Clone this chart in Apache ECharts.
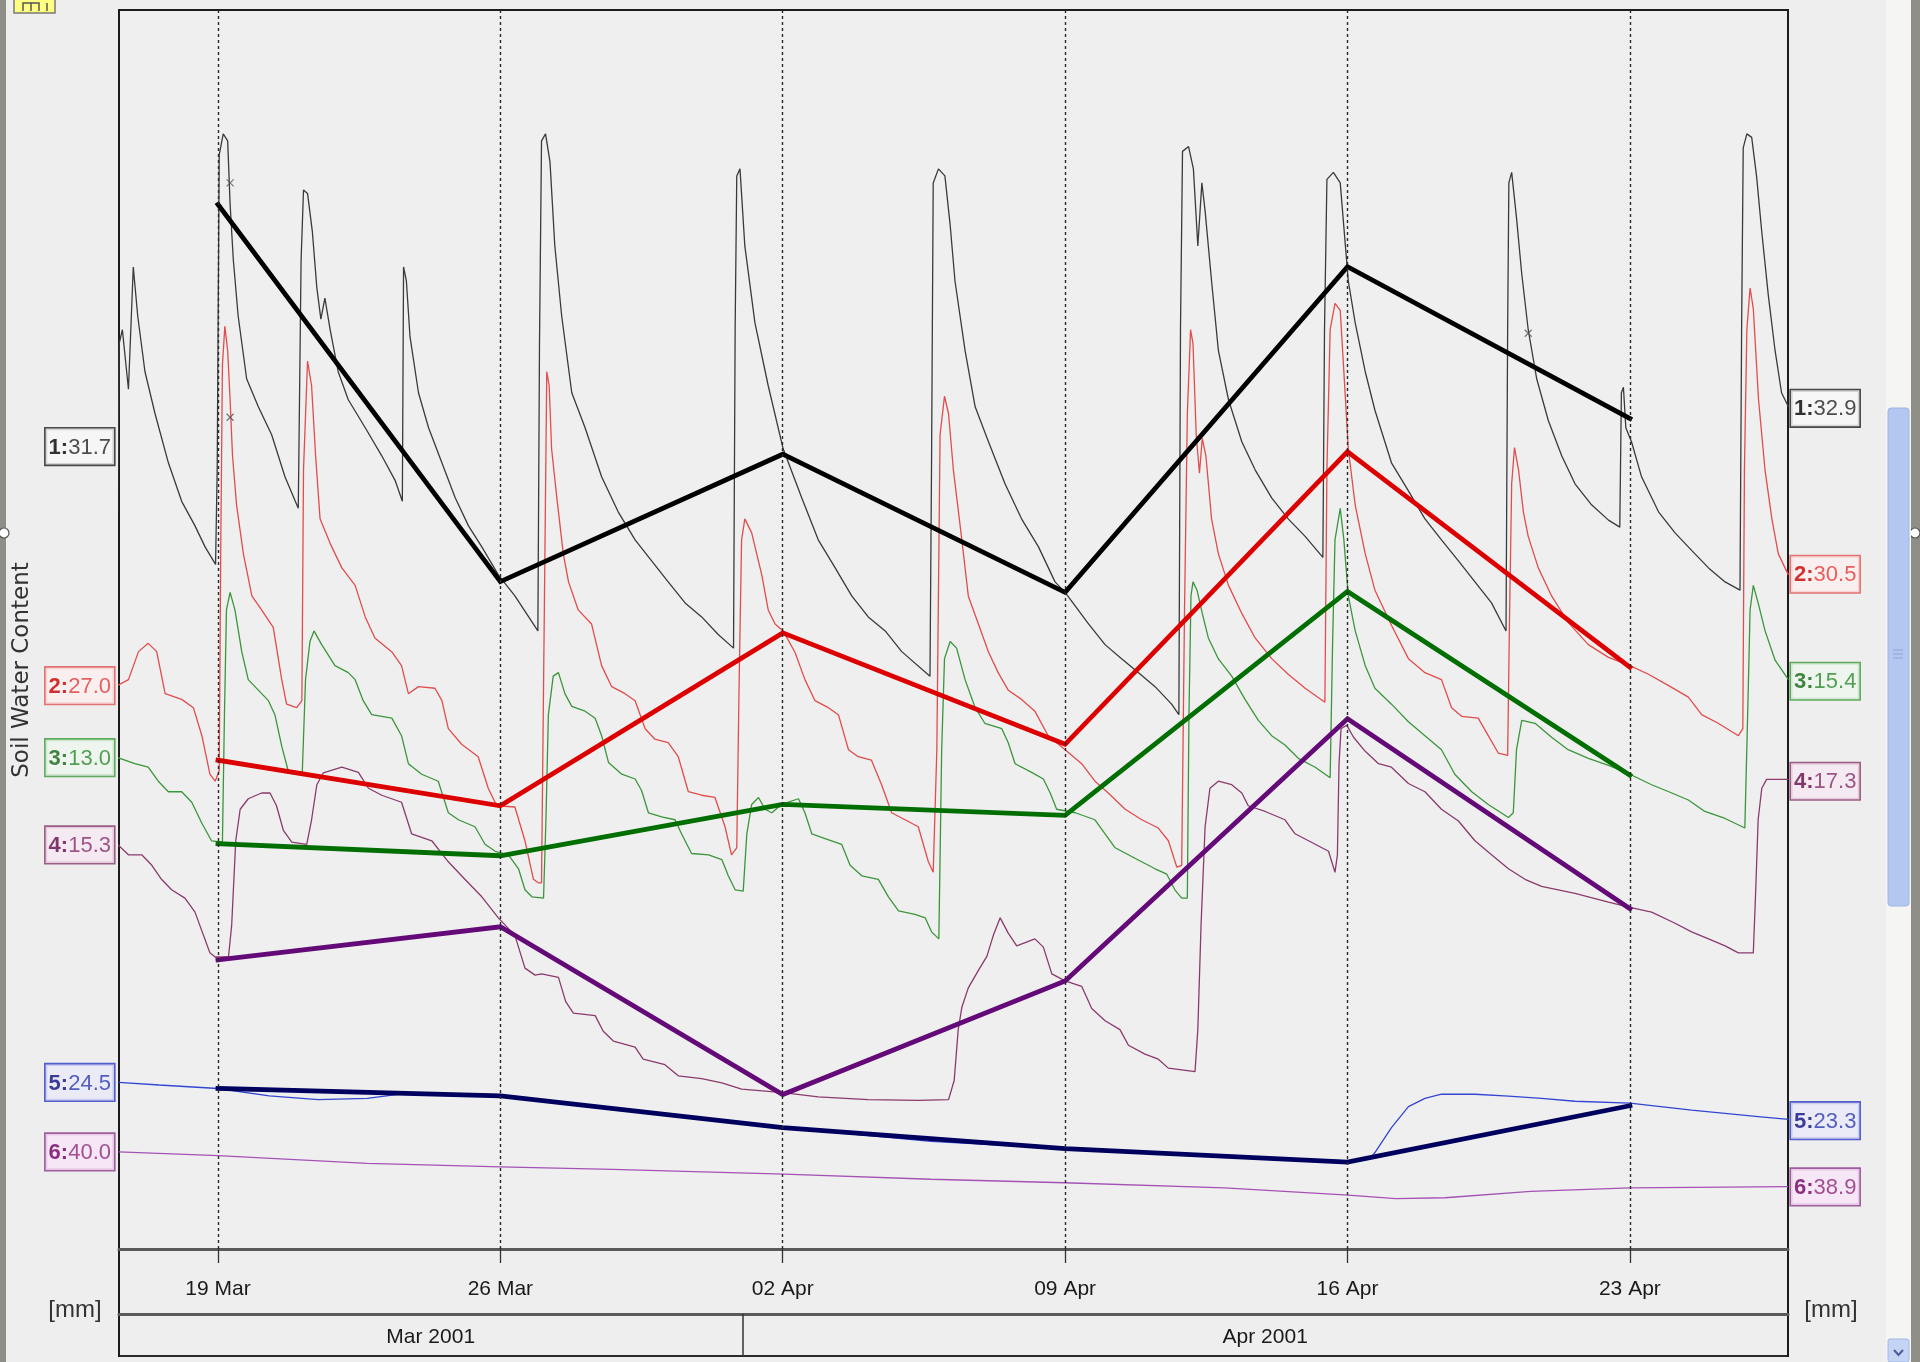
<!DOCTYPE html>
<html><head><meta charset="utf-8">
<script src="https://cdn.jsdelivr.net/npm/echarts@6/dist/echarts.min.js"></script>
<style>html,body{margin:0;padding:0;background:#eeeeee;overflow:hidden}#c{width:1920px;height:1362px}</style>
</head><body><div id="c"></div>
<script>
// ---------- data (x = days since 2001-03-16 00:00) ----------
const weekDays = [3, 10, 17, 24, 31, 38];
const weekLabels = ['19 Mar', '26 Mar', '02 Apr', '09 Apr', '16 Apr', '23 Apr'];
const monthBounds = [-15, 16, 46];               // 1 Mar, 1 Apr, 1 May
const monthLabels = ['Mar 2001', 'Apr 2001'];
const viewStart = 0.546, viewEnd = 41.92;

const leftValues  = [31.7, 27.0, 13.0, 15.3, 24.5, 40.0];
const rightValues = [32.9, 30.5, 15.4, 17.3, 23.3, 38.9];

const sensor1 = [[0.51,29.54],[0.55,34.93],[0.63,35.37],[0.78,33.50],[0.90,37.34],[1.01,35.80],[1.19,34.05],[1.44,32.73],[1.77,31.19],[2.10,29.98],[2.43,29.21],[2.68,28.55],[2.94,28.00],[2.98,30.97],[3.03,40.86],[3.13,41.52],[3.24,41.30],[3.30,39.32],[3.38,37.56],[3.50,35.80],[3.71,33.83],[4.00,32.95],[4.33,32.07],[4.66,30.75],[4.99,29.76],[5.06,37.56],[5.12,39.76],[5.22,39.65],[5.34,38.44],[5.45,36.69],[5.55,35.70],[5.65,36.36],[5.78,35.37],[5.98,34.05],[6.23,33.17],[6.65,32.29],[7.06,31.41],[7.39,30.64],[7.57,29.98],[7.60,37.34],[7.67,36.90],[7.76,35.15],[7.97,33.39],[8.22,32.29],[8.55,31.19],[8.88,30.09],[9.21,29.21],[9.54,28.55],[9.95,27.67],[10.36,27.01],[10.93,25.91],[10.97,34.93],[11.02,41.30],[11.12,41.52],[11.23,40.64],[11.35,38.00],[11.52,35.80],[11.77,33.39],[12.10,32.29],[12.51,30.75],[12.92,29.65],[13.34,28.77],[13.75,28.11],[14.16,27.45],[14.58,26.79],[14.99,26.35],[15.40,25.80],[15.78,25.37],[15.82,35.37],[15.86,40.20],[15.94,40.42],[16.06,38.00],[16.31,35.59],[16.64,33.61],[17.01,31.63],[17.47,30.09],[17.88,28.77],[18.30,27.89],[18.71,27.01],[19.12,26.35],[19.54,25.91],[19.95,25.26],[20.65,24.49],[20.69,31.41],[20.73,39.98],[20.86,40.42],[21.02,40.20],[21.15,38.66],[21.27,36.90],[21.52,34.71],[21.77,32.95],[22.10,31.85],[22.51,30.53],[22.92,29.43],[23.34,28.55],[23.75,27.45],[24.00,27.12],[24.58,26.13],[24.99,25.48],[25.40,25.04],[25.82,24.60],[26.23,24.16],[26.64,23.61],[26.82,23.28],[26.86,35.37],[26.91,40.97],[27.06,41.12],[27.18,40.42],[27.29,38.00],[27.39,39.98],[27.47,39.10],[27.63,36.90],[27.80,34.71],[28.05,33.17],[28.38,31.85],[28.71,30.97],[29.12,30.09],[29.53,29.43],[29.95,28.88],[30.39,28.22],[30.43,35.37],[30.49,40.09],[30.65,40.31],[30.82,39.98],[30.92,38.44],[31.02,36.90],[31.19,35.59],[31.44,34.05],[31.68,32.84],[32.09,31.19],[32.51,30.31],[32.92,29.43],[33.33,28.77],[33.75,28.11],[34.16,27.45],[34.57,26.79],[34.93,25.91],[34.97,35.37],[35.00,39.98],[35.07,40.31],[35.19,38.88],[35.32,37.12],[35.48,35.37],[35.69,33.83],[35.98,32.51],[36.31,31.41],[36.64,30.53],[37.05,29.87],[37.47,29.39],[37.75,29.17],[37.79,33.39],[37.84,33.56],[37.90,32.29],[38.04,31.85],[38.29,30.75],[38.71,29.65],[39.12,28.99],[39.53,28.44],[39.95,27.89],[40.36,27.45],[40.73,27.19],[40.77,35.37],[40.81,41.08],[40.90,41.52],[41.02,41.41],[41.14,40.20],[41.27,38.44],[41.43,36.47],[41.60,34.71],[41.76,33.39],[41.93,32.95]];

const sensor2 = [[0.45,26.97],[0.78,27.19],[1.03,28.07],[1.27,28.33],[1.48,28.07],[1.69,26.75],[2.10,26.57],[2.39,26.31],[2.60,25.43],[2.80,24.22],[2.93,24.00],[3.03,24.33],[3.07,31.58],[3.11,37.08],[3.17,38.29],[3.24,37.52],[3.30,35.98],[3.36,34.22],[3.46,32.68],[3.63,31.14],[3.84,29.82],[4.08,29.38],[4.37,28.83],[4.58,27.19],[4.70,26.42],[4.95,26.31],[5.08,26.53],[5.12,33.78],[5.22,37.19],[5.32,36.42],[5.42,34.22],[5.53,32.24],[5.78,31.47],[6.07,30.70],[6.40,30.15],[6.65,29.16],[6.89,28.50],[7.31,28.06],[7.55,27.63],[7.72,26.75],[7.97,26.97],[8.38,26.92],[8.55,26.53],[8.71,25.65],[9.04,25.16],[9.45,24.77],[9.70,23.78],[9.91,23.23],[10.36,23.19],[10.61,22.13],[10.82,20.92],[10.94,20.81],[11.02,20.81],[11.09,29.38],[11.15,36.86],[11.21,36.42],[11.27,34.44],[11.40,32.90],[11.56,31.14],[11.69,30.26],[11.93,29.38],[12.26,28.94],[12.51,27.63],[12.76,26.97],[13.09,26.75],[13.34,26.53],[13.59,25.65],[13.83,25.32],[14.16,25.21],[14.41,24.77],[14.66,23.67],[14.99,23.56],[15.32,23.49],[15.57,22.57],[15.73,21.69],[15.86,21.91],[15.92,27.19],[15.98,31.58],[16.06,32.24],[16.23,31.80],[16.48,30.48],[16.64,29.38],[16.81,28.94],[17.01,28.72],[17.30,28.06],[17.55,27.19],[17.80,26.53],[18.13,26.31],[18.38,26.09],[18.63,24.99],[18.87,24.77],[19.20,24.66],[19.45,23.89],[19.70,23.01],[20.03,22.79],[20.36,22.57],[20.61,21.47],[20.73,21.14],[20.82,24.99],[20.90,34.88],[21.01,36.09],[21.11,35.54],[21.23,33.78],[21.44,31.58],[21.60,29.82],[21.85,28.94],[22.10,28.06],[22.34,27.41],[22.59,26.86],[22.92,26.57],[23.25,26.20],[23.58,25.43],[24.00,24.99],[24.41,24.55],[24.74,24.00],[25.07,23.63],[25.49,23.12],[25.90,22.79],[26.31,22.53],[26.56,22.13],[26.77,21.30],[26.89,21.36],[26.96,29.38],[27.03,35.54],[27.11,38.18],[27.17,37.74],[27.25,34.88],[27.33,33.67],[27.40,34.77],[27.49,34.22],[27.63,32.24],[27.80,31.14],[28.05,30.15],[28.38,29.27],[28.71,28.50],[29.12,27.85],[29.53,27.36],[29.95,26.92],[30.44,26.48],[30.49,33.78],[30.57,38.18],[30.69,39.01],[30.82,38.79],[30.90,37.08],[31.02,34.44],[31.19,32.68],[31.44,31.14],[31.68,30.00],[32.09,28.90],[32.51,27.85],[32.92,27.41],[33.33,27.19],[33.58,26.31],[33.83,26.04],[34.24,25.98],[34.49,25.43],[34.74,24.88],[34.97,24.81],[35.02,29.38],[35.07,33.34],[35.14,34.48],[35.24,33.78],[35.36,32.46],[35.48,31.69],[35.73,30.70],[36.06,29.82],[36.47,28.99],[36.97,28.29],[37.47,27.89],[38.00,27.63],[38.46,27.36],[38.95,27.01],[39.45,26.64],[39.78,26.09],[40.19,25.82],[40.69,25.43],[40.80,25.65],[40.84,33.78],[40.90,38.18],[40.98,39.49],[41.06,38.84],[41.19,35.98],[41.35,33.78],[41.52,32.24],[41.68,31.14],[41.93,30.48]];

const sensor3 = [[0.45,13.03],[0.94,12.81],[1.27,12.70],[1.52,12.26],[1.77,11.93],[2.10,11.93],[2.35,11.60],[2.60,10.94],[2.84,10.39],[3.11,10.35],[3.16,14.35],[3.21,17.64],[3.30,18.19],[3.42,17.64],[3.59,16.32],[3.75,15.45],[4.00,15.12],[4.25,14.79],[4.41,14.35],[4.58,13.36],[4.74,12.59],[5.09,12.54],[5.17,15.45],[5.28,16.65],[5.38,16.98],[5.57,16.55],[5.90,15.89],[6.23,15.67],[6.40,15.45],[6.60,14.79],[6.81,14.35],[7.31,14.24],[7.55,13.69],[7.72,12.81],[8.05,12.48],[8.46,12.26],[8.71,11.27],[8.96,11.05],[9.37,10.83],[9.62,10.28],[9.87,10.06],[10.20,9.95],[10.45,9.51],[10.61,8.85],[10.78,8.63],[11.07,8.59],[11.13,11.05],[11.19,14.35],[11.31,15.56],[11.44,15.67],[11.60,15.01],[11.77,14.61],[12.10,14.46],[12.35,14.24],[12.51,13.69],[12.68,12.85],[13.01,12.48],[13.34,12.33],[13.50,11.97],[13.67,11.27],[14.00,11.14],[14.33,11.05],[14.49,10.61],[14.74,9.99],[15.16,9.95],[15.49,9.80],[15.65,9.29],[15.82,8.85],[16.02,8.81],[16.11,10.61],[16.23,11.53],[16.40,11.75],[16.56,11.38],[16.73,11.27],[16.97,11.53],[17.39,11.71],[17.55,11.27],[17.72,10.61],[18.05,10.46],[18.46,10.28],[18.67,9.62],[18.96,9.29],[19.37,9.18],[19.62,8.63],[19.87,8.19],[20.28,8.08],[20.53,7.97],[20.69,7.53],[20.87,7.31],[20.94,13.25],[21.01,16.11],[21.15,16.65],[21.31,16.44],[21.52,15.45],[21.77,14.57],[22.01,14.08],[22.43,13.91],[22.59,13.47],[22.76,12.81],[23.17,12.54],[23.46,12.33],[23.63,11.89],[23.79,11.38],[24.25,11.27],[24.74,11.05],[24.99,10.61],[25.24,10.17],[25.73,9.84],[26.23,9.51],[26.52,9.34],[26.72,8.85],[26.89,8.59],[27.03,8.59],[27.07,14.35],[27.12,18.08],[27.17,18.52],[27.27,18.26],[27.40,17.53],[27.55,16.76],[27.80,16.10],[28.13,15.56],[28.46,14.83],[28.79,14.17],[29.12,13.69],[29.45,13.40],[29.78,12.98],[30.20,12.70],[30.57,12.37],[30.63,16.55],[30.69,19.84],[30.82,20.83],[30.91,19.84],[31.02,18.08],[31.19,16.99],[31.44,15.89],[31.68,15.18],[32.09,14.68],[32.51,14.13],[32.92,13.69],[33.33,13.25],[33.66,12.48],[34.08,11.93],[34.49,11.53],[34.99,11.12],[35.11,11.27],[35.19,13.25],[35.32,14.17],[35.65,14.08],[36.06,13.64],[36.47,13.25],[36.97,12.98],[37.47,12.76],[38.00,12.48],[38.54,12.15],[39.04,11.89],[39.45,11.67],[39.86,11.31],[40.36,11.09],[40.85,10.79],[40.92,14.35],[40.98,17.64],[41.06,18.41],[41.18,17.86],[41.35,16.99],[41.60,16.06],[41.93,15.45]];

const sensor4 = [[0.45,15.39],[0.78,14.99],[1.11,14.99],[1.36,14.66],[1.60,14.22],[1.85,13.89],[2.18,13.63],[2.43,13.19],[2.64,12.46],[2.80,11.91],[2.93,11.78],[3.26,11.78],[3.34,12.79],[3.44,15.43],[3.55,16.42],[3.75,16.75],[4.08,16.93],[4.29,16.93],[4.45,16.53],[4.62,15.76],[4.83,15.39],[5.20,15.32],[5.32,16.09],[5.45,17.19],[5.61,17.56],[6.07,17.74],[6.48,17.58],[6.73,17.08],[7.06,16.86],[7.55,16.64],[7.80,15.65],[8.30,15.43],[8.71,14.77],[9.12,14.22],[9.54,13.67],[9.95,13.01],[10.36,12.46],[10.61,11.43],[10.86,11.21],[11.02,11.25],[11.44,11.14],[11.62,10.38],[11.81,10.02],[12.35,9.94],[12.55,9.45],[12.80,9.14],[13.34,8.95],[13.54,8.57],[14.08,8.40],[14.41,8.05],[14.99,7.96],[15.49,7.83],[15.98,7.63],[17.01,7.52],[17.88,7.39],[19.12,7.30],[20.36,7.28],[21.11,7.30],[21.25,7.90],[21.35,9.50],[21.44,10.20],[21.60,10.81],[21.85,11.36],[22.06,11.80],[22.22,12.46],[22.39,13.01],[22.59,12.53],[22.80,12.13],[23.25,12.35],[23.46,12.09],[23.67,11.25],[24.00,11.03],[24.41,10.86],[24.66,10.16],[24.99,9.78],[25.36,9.50],[25.57,9.01],[25.98,8.73],[26.31,8.57],[26.56,8.29],[27.22,8.18],[27.29,9.50],[27.37,12.79],[27.47,15.87],[27.59,17.08],[27.80,17.30],[28.13,17.19],[28.38,16.93],[28.54,16.53],[28.96,16.35],[29.45,16.09],[29.70,15.65],[30.20,15.32],[30.53,15.10],[30.69,14.44],[30.75,14.99],[30.79,17.85],[30.84,18.95],[30.98,19.06],[31.15,18.68],[31.44,18.24],[31.77,17.85],[32.09,17.74],[32.51,17.23],[32.92,16.97],[33.33,16.42],[33.75,16.05],[34.16,15.43],[34.57,14.99],[34.99,14.55],[35.40,14.22],[35.81,14.00],[36.64,13.78],[37.47,13.50],[38.00,13.34],[38.54,13.19],[39.12,12.84],[39.53,12.57],[39.95,12.35],[40.36,12.13],[40.69,11.91],[41.06,11.91],[41.12,13.89],[41.18,16.09],[41.27,17.08],[41.39,17.36],[41.93,17.36]];

const sensor5 = [[0.54,24.50],[1.54,24.42],[3.00,24.31],[4.27,24.08],[5.49,23.96],[6.70,24.00],[7.61,24.15],[10.00,24.08],[12.80,23.69],[17.00,23.08],[20.67,22.65],[24.00,22.42],[27.96,22.19],[31.00,22.04],[31.55,22.10],[31.68,22.30],[32.09,23.08],[32.51,23.74],[32.92,24.00],[33.33,24.13],[34.16,24.13],[34.99,24.07],[35.81,24.00],[36.64,23.91],[38.00,23.85],[39.53,23.63],[41.18,23.43],[41.93,23.34]];

const sensor6 = [[0.54,40.00],[3.00,39.88],[6.70,39.64],[10.00,39.53],[12.78,39.45],[17.03,39.30],[20.67,39.14],[23.98,39.03],[27.95,38.87],[31.02,38.64],[32.20,38.53],[33.42,38.56],[35.54,38.76],[38.00,38.87],[41.92,38.91]];

// weekly readings (thick lines) at weekDays
const weekly1 = [39.30, 27.46, 31.46, 27.12, 37.35, 32.58];
const weekly2 = [24.66, 23.23, 28.66, 25.16, 34.35, 27.58];
const weekly3 = [10.30, 9.92, 11.53, 11.19, 18.22, 12.45];
const weekly4 = [11.69, 12.73, 7.46, 11.03, 19.26, 13.30];
const weekly5 = [24.31, 24.08, 23.08, 22.42, 22.00, 23.77];

// flagged readings ("x" marks): [sensorIndex, day, value]
const flagged = [[0, 3.30, 39.98], [1, 3.30, 35.43], [0, 35.48, 35.26]];

// ---------- presentation ----------
const axisMins = [6.50, 9.31, -2.43, 2.61, 19.27, 36.95];
const SPAN = 38.91;
const thinColors = ['#3a3a3a', '#e24c4c', '#3a963a', '#8a3a6c', '#3246d2', '#a452b4'];
const thickColors = ['#000000', '#dd0000', '#006e00', '#640a78', '#00005e'];
const lab = [
  {b:'#000000', n:'#222222', bg:'#f7f7f7', bd:'#1e1e1e'},
  {b:'#c80000', n:'#e23a3a', bg:'#fcefef', bd:'#e05454'},
  {b:'#146614', n:'#2a8a2a', bg:'#eef6ee', bd:'#3a9a3a'},
  {b:'#640a46', n:'#86306a', bg:'#f8e8f2', bd:'#86386a'},
  {b:'#10107e', n:'#2a3ab0', bg:'#eaeaf9', bd:'#2a3ac0'},
  {b:'#6e0060', n:'#8a2a7a', bg:'#f9e4f6', bd:'#8a3a8a'}
];
const sensors = [sensor1, sensor2, sensor3, sensor4, sensor5, sensor6];
const weeklies = [weekly1, weekly2, weekly3, weekly4, weekly5];
const NARROW = "'Liberation Sans Narrow','Liberation Sans',Arial,sans-serif";

const series = [];
sensors.forEach((s, k) => {
  const ser = {
    type: 'line', name: 'Sensor ' + (k + 1), yAxisIndex: k, xAxisIndex: 0,
    showSymbol: false, symbol: 'none', silent: true, z: 2,
    lineStyle: {color: thinColors[k], width: 1.3},
    data: s
  };
  if (k === 5) {
    ser.markLine = {
      silent: true, symbol: ['none', 'none'], label: {show: false},
      lineStyle: {color: '#2a2a2a', type: [3, 3], width: 1.4},
      data: weekDays.map(d => ({xAxis: d}))
    };
  }
  series.push(ser);
});
weeklies.forEach((w, k) => {
  series.push({
    type: 'line', name: 'Weekly ' + (k + 1), yAxisIndex: k, xAxisIndex: 0,
    showSymbol: false, symbol: 'none', silent: true, z: 4,
    lineStyle: {color: thickColors[k], width: 4.8, cap: 'square', join: 'miter'},
    data: w.map((v, i) => [weekDays[i], v])
  });
});
flagged.forEach(f => {
  series.push({
    type: 'scatter', yAxisIndex: f[0], xAxisIndex: 0, silent: true, z: 5,
    symbol: 'path://M0,0L10,10M10,0L0,10', symbolSize: 7,
    itemStyle: {color: 'none', borderColor: '#555', borderWidth: 1.2},
    data: [[f[1], f[2]]]
  });
});
// value boxes at both edges
sensors.forEach((s, k) => {
  const st = lab[k];
  series.push({
    type: 'scatter', yAxisIndex: k, xAxisIndex: 0, silent: true, clip: false, z: 10,
    symbolSize: 0,
    label: {
      show: true,
      formatter: p => '{b|' + (k + 1) + ':}{n|' + p.value[1].toFixed(1) + '}',
      backgroundColor: st.bg, borderColor: st.bd, borderWidth: 1.6,
      padding: [8, 3, 6, 3],
      rich: {
        b: {fontFamily: NARROW, fontSize: 22, fontWeight: 'bold', color: st.b},
        n: {fontFamily: NARROW, fontSize: 22, color: st.n}
      }
    },
    data: [
      {value: [viewStart, leftValues[k]], label: {position: 'left', distance: 5}},
      {value: [viewEnd, rightValues[k]], label: {position: 'right', distance: 3}}
    ]
  });
});

const weekLabelMap = {};
weekDays.forEach((d, i) => { weekLabelMap[d] = weekLabels[i]; });
const monthMid = [], monthLabelMap = {};
monthLabels.forEach((m, i) => {
  const a = Math.max(monthBounds[i], viewStart), b = Math.min(monthBounds[i + 1], viewEnd);
  const mid = (a + b) / 2;
  monthMid.push(mid); monthLabelMap[mid] = m;
});

const yAxis = axisMins.map(m => ({type: 'value', min: m, max: m + SPAN, show: false}));

const option = {
  animation: false,
  backgroundColor: '#eeeeee',
  grid: {left: 119, right: 132, top: 10, bottom: 113, show: true,
         backgroundColor: '#efefef', borderColor: '#1c1c1c', borderWidth: 2},
  xAxis: [
    {type: 'value', min: viewStart, max: viewEnd, position: 'bottom',
     axisLine: {show: true, onZero: false, lineStyle: {color: '#5a5a5a', width: 3}},
     axisTick: {show: true, customValues: weekDays, length: 14, lineStyle: {color: '#333', width: 1.3}},
     axisLabel: {show: true, customValues: weekDays, margin: 30, fontFamily: NARROW, fontSize: 21, color: '#1a1a1a',
                 formatter: v => weekLabelMap[v] || ''},
     splitLine: {show: false}},
    {type: 'value', min: viewStart, max: viewEnd, position: 'bottom', offset: 65,
     axisLine: {show: true, onZero: false, lineStyle: {color: '#5a5a5a', width: 3}},
     axisTick: {show: true, customValues: [monthBounds[1]], length: 42, lineStyle: {color: '#333', width: 1.5}},
     axisLabel: {show: true, customValues: monthMid, margin: 13, fontFamily: NARROW, fontSize: 21, color: '#1a1a1a',
                 formatter: v => monthLabelMap[v] || ''},
     splitLine: {show: false}}
  ],
  yAxis: yAxis,
  series: series,
  graphic: [
    {type: 'rect', shape: {x: 0, y: 0, width: 6, height: 1362}, style: {fill: '#8e8e86'}, silent: true},
    {type: 'rect', shape: {x: 1911, y: 0, width: 9, height: 1362}, style: {fill: '#8e8e86'}, silent: true},
    {type: 'circle', shape: {cx: 4, cy: 533, r: 5}, style: {fill: '#fff', stroke: '#555', lineWidth: 1.2}, silent: true},
    {type: 'circle', shape: {cx: 1915, cy: 533, r: 5}, style: {fill: '#fff', stroke: '#555', lineWidth: 1.2}, silent: true},
    {type: 'rect', shape: {x: 1886, y: 0, width: 25, height: 1362}, style: {fill: '#f5f5f3'}, silent: true},
    {type: 'rect', shape: {x: 1888, y: 408, width: 21, height: 498, r: 3}, style: {fill: '#b4c7f0', stroke: '#9fb4e4', lineWidth: 1}, silent: true},
    {type: 'line', shape: {x1: 1893, y1: 650, x2: 1903, y2: 650}, style: {stroke: '#8ea4d4', lineWidth: 1}, silent: true},
    {type: 'line', shape: {x1: 1893, y1: 654, x2: 1903, y2: 654}, style: {stroke: '#8ea4d4', lineWidth: 1}, silent: true},
    {type: 'line', shape: {x1: 1893, y1: 658, x2: 1903, y2: 658}, style: {stroke: '#8ea4d4', lineWidth: 1}, silent: true},
    {type: 'rect', shape: {x: 1888, y: 1339, width: 21, height: 23, r: 2}, style: {fill: '#c4d4f4', stroke: '#a3b8e6'}, silent: true},
    {type: 'polyline', shape: {points: [[1894, 1350], [1898.5, 1355], [1903, 1350]]}, style: {stroke: '#4a5f9a', lineWidth: 2, fill: 'none'}, silent: true},
    {type: 'rect', shape: {x: 14, y: -2, width: 41, height: 15}, style: {fill: '#ffff82', stroke: '#7a7a7a', lineWidth: 1.5}, silent: true},
    {type: 'polyline', shape: {points: [[23, 11], [23, 3], [31, 3], [31, 11]]}, style: {stroke: '#555', lineWidth: 1.5, fill: 'none'}, silent: true},
    {type: 'polyline', shape: {points: [[31, 3], [39, 3], [39, 11]]}, style: {stroke: '#555', lineWidth: 1.5, fill: 'none'}, silent: true},
    {type: 'line', shape: {x1: 47, y1: 3, x2: 47, y2: 11}, style: {stroke: '#555', lineWidth: 1.5}, silent: true},
    {type: 'line', shape: {x1: 119, y1: 1356, x2: 1788, y2: 1356}, style: {stroke: '#2a2a2a', lineWidth: 2}, silent: true},
    {type: 'line', shape: {x1: 119, y1: 1249, x2: 119, y2: 1357}, style: {stroke: '#1c1c1c', lineWidth: 2}, silent: true},
    {type: 'line', shape: {x1: 1788, y1: 1249, x2: 1788, y2: 1357}, style: {stroke: '#1c1c1c', lineWidth: 2}, silent: true},
    {type: 'text', x: 22, y: 670, rotation: Math.PI / 2, silent: true,
     style: {text: 'Soil Water Content', fontFamily: "'DejaVu Sans',Verdana,sans-serif", fontSize: 23, fill: '#333',
             align: 'center', verticalAlign: 'middle'}},
    {type: 'text', x: 75, y: 1310, silent: true,
     style: {text: '[mm]', fontFamily: NARROW, fontSize: 24, fill: '#333', align: 'center', verticalAlign: 'middle'}},
    {type: 'text', x: 1831, y: 1310, silent: true,
     style: {text: '[mm]', fontFamily: NARROW, fontSize: 24, fill: '#333', align: 'center', verticalAlign: 'middle'}}
  ]
};
const chart = echarts.init(document.getElementById('c'), null, {renderer: 'canvas'});
chart.setOption(option);
</script>
</body></html>
